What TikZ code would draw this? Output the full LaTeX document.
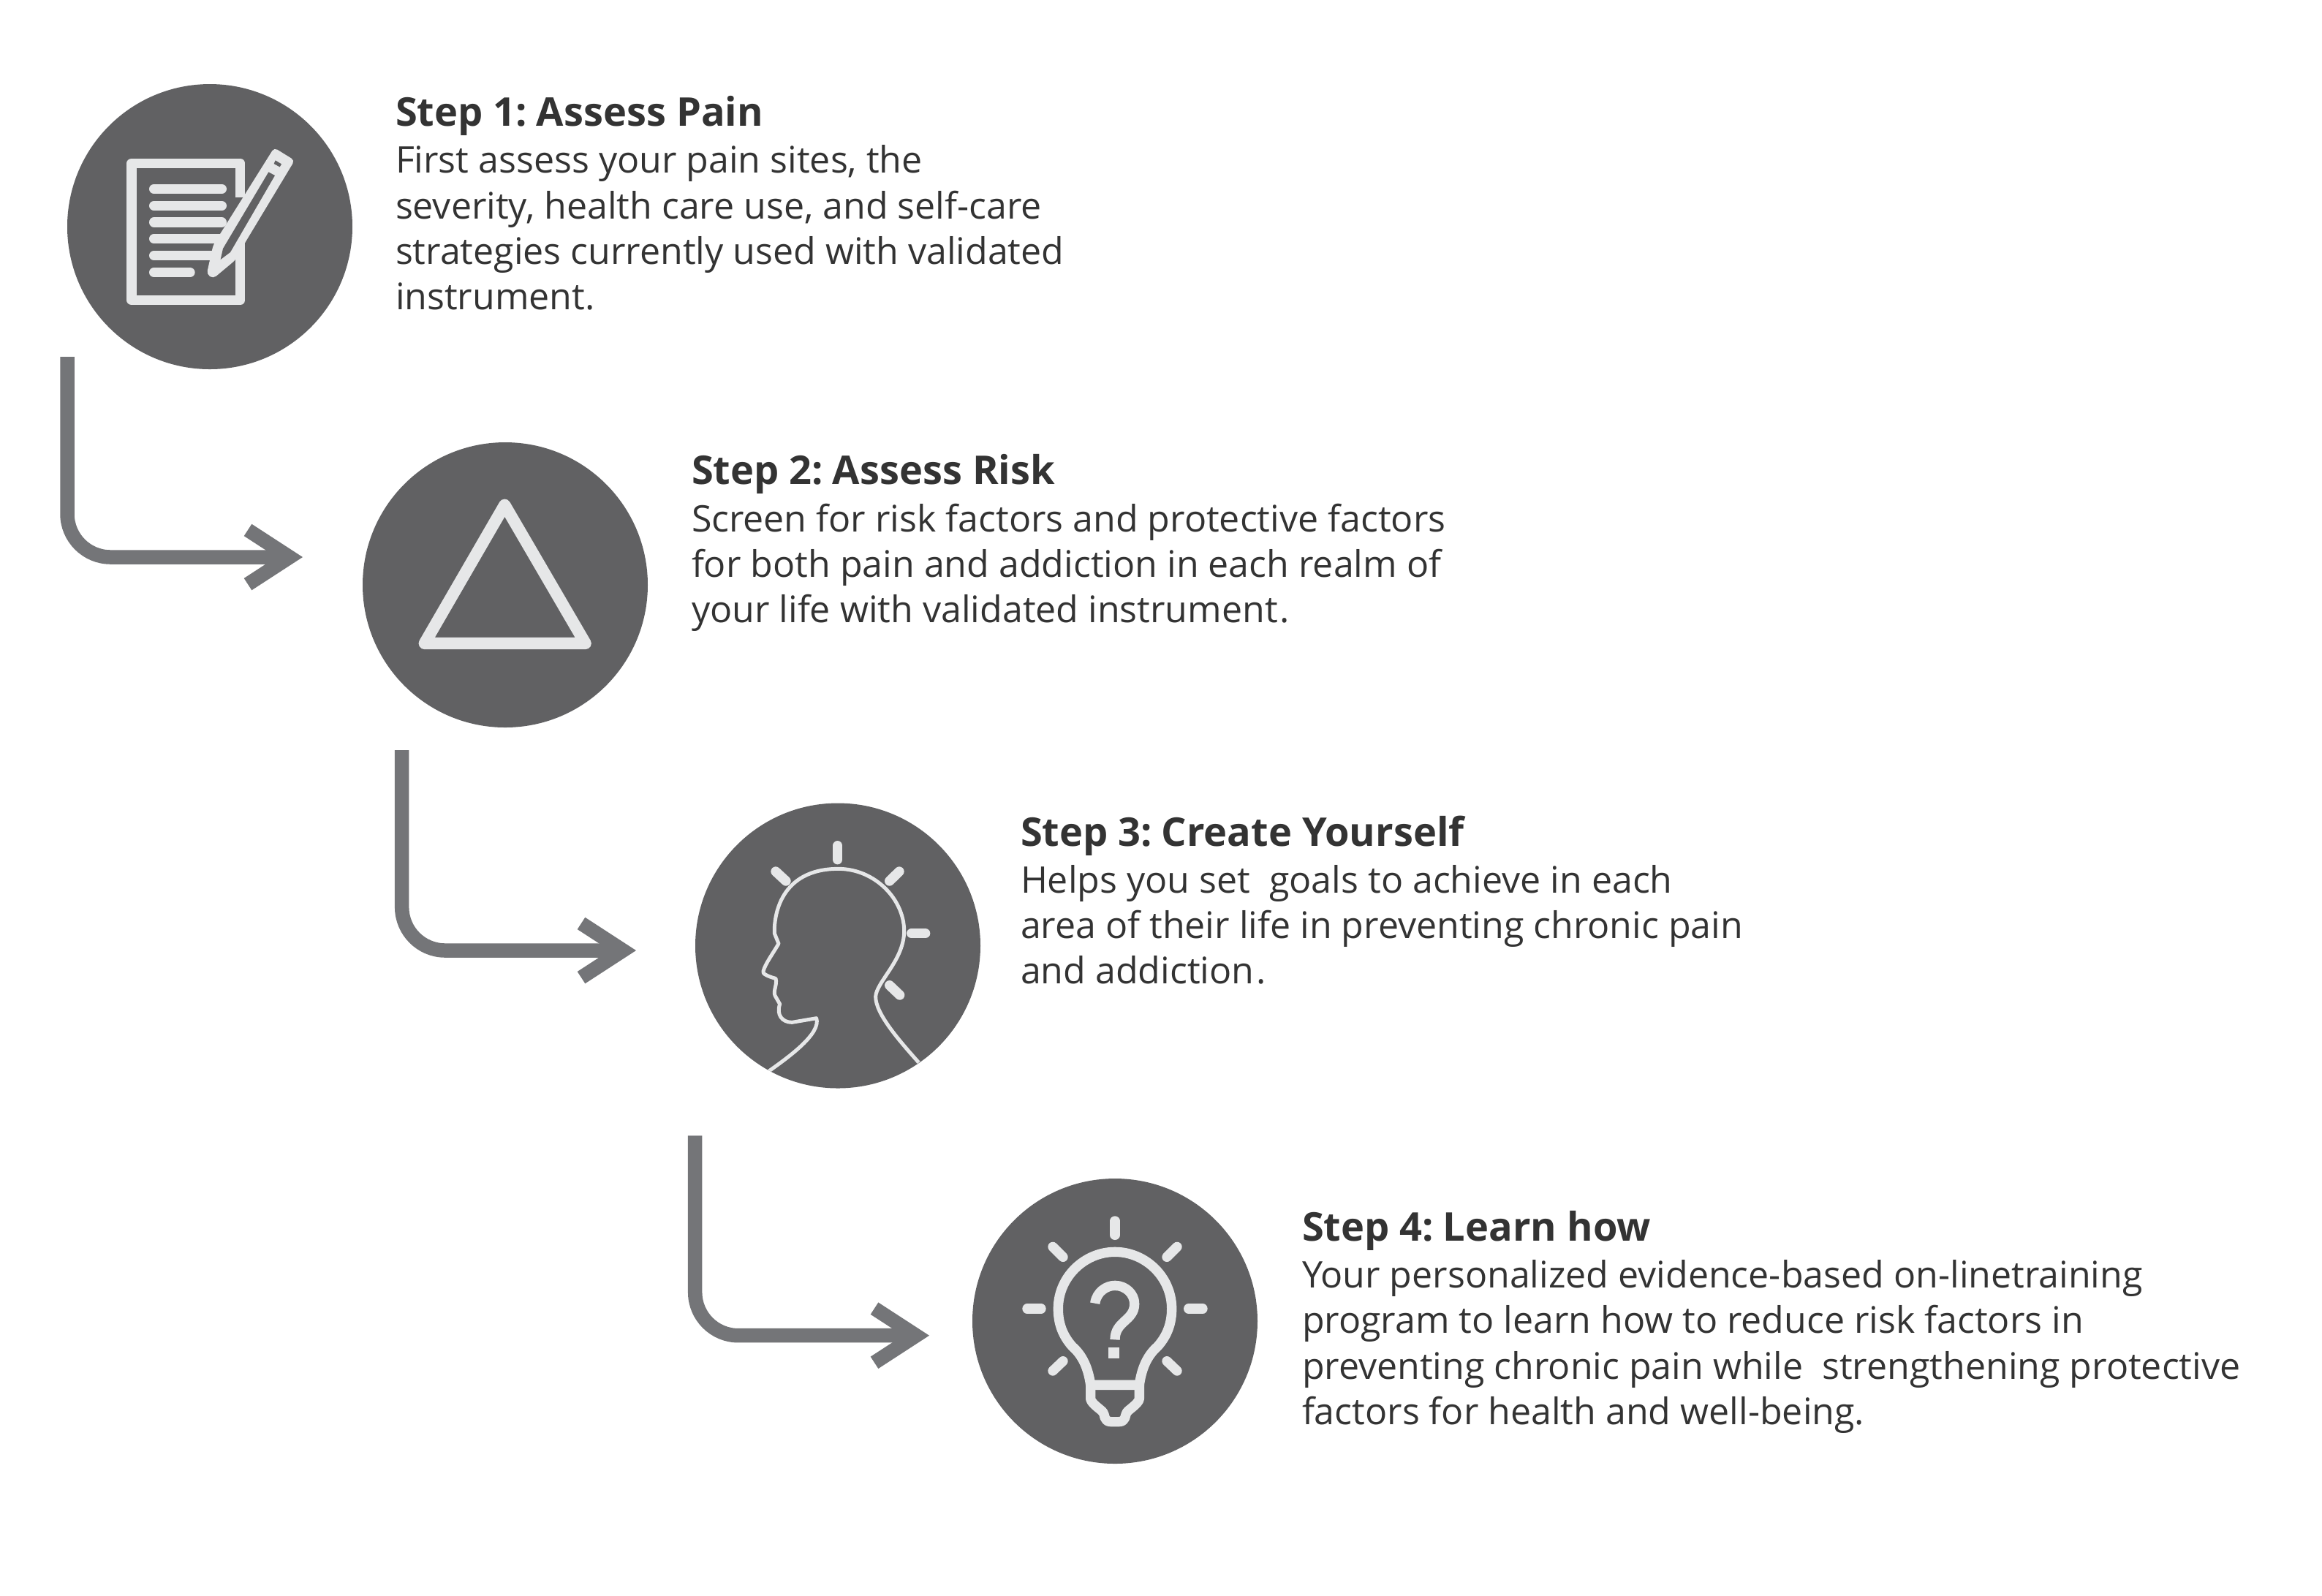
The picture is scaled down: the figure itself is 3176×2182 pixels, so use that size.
\documentclass[tikz,border=0pt]{standalone}
\usepackage{fontspec}
\setmainfont{Open Sans}
\usetikzlibrary{arrows.meta}
\definecolor{disc}{HTML}{616163}
\definecolor{icon}{HTML}{E6E7E8}
\definecolor{conn}{HTML}{747578}
\definecolor{ink}{HTML}{333333}
\tikzset{
  x=0.24pt,y=-0.24pt,
  discnode/.style={circle,fill=disc,minimum size=93.6pt,inner sep=0pt,outer sep=0pt},
  flow/.style={conn,line width=4.68pt,rounded corners=14.2pt,-{Straight Barb[length=13.7pt,width=17.8pt,line width=4.68pt]}},
  txt/.style={anchor=north west,inner sep=0pt,outer sep=0pt,text=ink,font=\fontsize{12.02pt}{14.92pt}\selectfont,align=left},
  zoomed/.style={x=0.08pt,y=-0.08pt},
  thick icon/.style={draw=icon,line width=3.2pt,line cap=round,line join=round},
  thin icon/.style={draw=icon,line width=1.2pt,line join=round},
}
\newcommand{\steptext}[5]{\node[txt] (#1) at (#2,#3) {\rule{0pt}{10pt}\textbf{\fontsize{13pt}{14.92pt}\selectfont #4}\\[0.5pt]#5};}
\begin{document}
\begin{tikzpicture}
\useasboundingbox (0,0) rectangle (3176,2182);
\node[discnode] (d1) at (287,310) {};
\node[discnode] (d2) at (691,800) {};
\node[discnode] (d3) at (1146,1293.5) {};
\node[discnode] (d4) at (1525,1807) {};
\coordinate (s1) at (92,488); \coordinate (e1) at (414,762);
\coordinate (s2) at (549.7,1026); \coordinate (e2) at (870,1300);
\coordinate (s3) at (950.7,1553.3); \coordinate (e3) at (1271,1826.7);
\draw[flow] (s1) |- (e1);
\draw[flow] (s2) |- (e2);
\draw[flow] (s3) |- (e3);
% icon 1
\begin{scope}[shift={(60,90)},zoomed]
\foreach \yy/\xx in {505/730,574/730,642/730,710/730,779/690,848/600}
  \draw[thick icon] (452,\yy) -- (\xx,\yy);
\draw[thick icon,line cap=butt,line join=round] (806,540) -- (806,400) -- (360,400) -- (360,962) -- (806,962) -- (806,720);
\fill[icon,rounded corners=1.2pt] (945,336) -- (1029,388) -- (826,725) -- (786,797) -- (695,873) -- (668,855) -- (695,735) -- cycle;
\fill[disc] (922,436) -- (948,450) -- (765,765) -- (725,795) -- (735,750) -- cycle;
\fill[disc] (950,388) -- (975,403) -- (968,415) -- (944,402) -- cycle;
\end{scope}
% icon 2
\draw[icon,line width=3.9pt,line join=round] (690.3,690.7) -- (800.7,880) -- (580.7,880) -- cycle;
% icon 3
\begin{scope}
\clip (d3) circle (195);
\begin{scope}[shift={(920,1080)},zoomed]
\foreach \a/\b/\c/\d in {677/230/677/287,423/336/465/375,930/336/890/375,980/590/1037/590,890/803/932/843}
  \draw[thick icon] (\a,\b) -- (\c,\d);
\draw[thin icon] (395,1155) .. controls (480,1095) and (610,1000) .. (590,938)
 -- (490,955) .. controls (450,955) and (425,925) .. (440,880)
 -- (420,845) .. controls (412,825) and (430,800) .. (423,775)
 .. controls (395,768) and (365,755) .. (372,745)
 .. controls (380,715) and (410,675) .. (435,632)
 -- (418,590) .. controls (415,520) and (440,325) .. (680,325)
 .. controls (830,325) and (950,450) .. (950,580)
 .. controls (950,700) and (835,790) .. (833,850)
 .. controls (833,920) and (930,1030) .. (1010,1120);
\end{scope}
\end{scope}
% icon 4
\begin{scope}[shift={(1310,1600)},zoomed]
\foreach \a/\b/\c/\d in {645/210/645/268,390/316/432/358,900/316/858/358,285/570/342/570,947/570/1005/570,432/785/390/825,858/785/900/825}
  \draw[thick icon] (\a,\b) -- (\c,\d);
\draw[thick icon,line cap=butt] (545,883) .. controls (535,810) and (510,760) .. (470,725)
 .. controls (430,680) and (412,630) .. (412,570)
 .. controls (412,440) and (520,337) .. (645,337)
 .. controls (770,337) and (878,440) .. (878,570)
 .. controls (878,630) and (860,680) .. (820,725)
 .. controls (780,760) and (755,810) .. (745,883) -- cycle;
\draw[thick icon,line cap=butt] (545,883) -- (545,940) .. controls (548,960) and (590,985) .. (596,995)
 .. controls (605,1003) and (596,1034) .. (630,1034) -- (660,1034)
 .. controls (694,1034) and (685,1003) .. (694,995)
 .. controls (700,985) and (742,960) .. (745,940) -- (745,883);
\draw[thick icon,line cap=butt] (563,548) .. controls (570,500) and (610,475) .. (645,475)
 .. controls (690,475) and (725,510) .. (725,550)
 .. controls (725,620) and (645,620) .. (645,697);
\fill[icon] (618,730) rectangle (663,773);
\end{scope}
% texts
\steptext{t1}{541}{131}{Step 1:\kern-0.3pt\ Assess Pain}{First assess your pain sites, the\\severity, health care use, and self-care\\strategies currently used with validated\\instrument.}
\steptext{t2}{946}{621.3}{Step 2:\kern-0.3pt\ Assess Risk}{Screen for risk factors and protective factors\\for both pain and addiction in each realm of\\your life with validated instrument\kern0.7pt.}
\steptext{t3}{1396}{1115.3}{Step 3:\kern-0.3pt\ Create Yourself}{Helps you set\ \ goals to achieve in each\\area of their life in preventing chronic pain\\and addiction\kern0.7pt.}
\steptext{t4}{1781}{1655.8}{Step 4:\kern-0.3pt\ Learn how}{Your personalized evidence-based on-linetraining\\program to learn how to reduce risk factors in\\preventing chronic pain while\ \ strengthening protective\\factors for health and well-being.}
\end{tikzpicture}
\end{document}
